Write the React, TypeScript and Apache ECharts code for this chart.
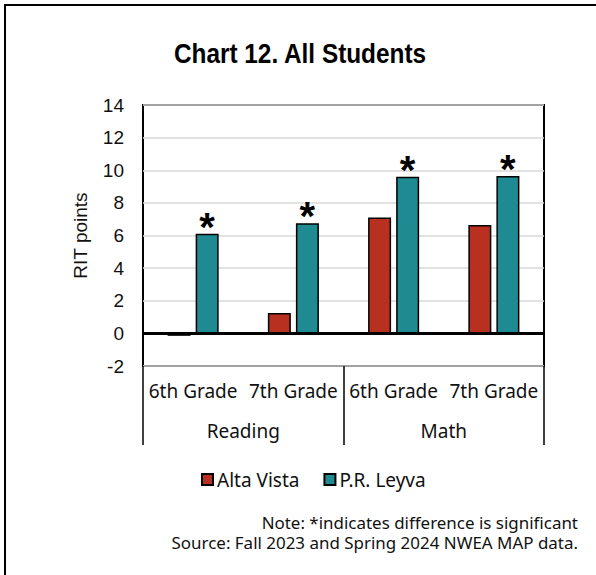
import React, { useEffect, useRef } from "react";
import * as echarts from "echarts";

const grades = ["6th Grade", "7th Grade", "6th Grade", "7th Grade"];
const subjects = ["Reading", "Math"];
const altaVista = [-0.15, 1.25, 7.1, 6.65];
const leyva = [6.1, 6.75, 9.6, 9.65];
const significant = [true, true, true, true];
const seriesNames = ["Alta Vista", "P.R. Leyva"];
const titleText = "Chart 12. All Students";
const noteLines = [
  "Note: *indicates difference is significant",
  "Source: Fall 2023 and Spring 2024 NWEA MAP data.",
];

const RED = "#B8301F";
const TEAL = "#1F8A92";
const ARIAL = "'Liberation Sans', Arial, sans-serif";
const SANS = "'Noto Sans', 'Liberation Sans', sans-serif";

export default function App() {
  const ref = useRef<HTMLDivElement>(null);
  useEffect(() => {
    if (!ref.current) return;
    const chart = echarts.init(ref.current, null, { renderer: "svg" });
    chart.setOption({
      animation: false,
      backgroundColor: "#fff",
      grid: {
        left: 143,
        top: 105,
        right: 52,
        bottom: 209,
        show: true,
        borderColor: "#000",
        borderWidth: 2,
        containLabel: false,
      },
      legend: {
        data: seriesNames,
        left: 196,
        top: 465,
        itemWidth: 11,
        itemHeight: 11,
        itemGap: 24,
        icon: "rect",
        textStyle: { fontFamily: SANS, fontSize: 19, color: "#111", padding: [0, 0, 0, -1] },
      },
      xAxis: [
        {
          type: "category",
          data: grades,
          position: "bottom",
          axisLine: { show: false },
          axisTick: { show: false },
          axisLabel: {
            interval: 0,
            margin: 15,
            fontFamily: SANS,
            fontSize: 19,
            color: "#111",
          },
          splitLine: { show: false },
        },
        {
          type: "category",
          data: subjects,
          position: "bottom",
          axisLine: { show: false },
          axisTick: { show: true, length: 79, lineStyle: { color: "#000", width: 1.5 } },
          axisLabel: {
            interval: 0,
            margin: 55,
            fontFamily: SANS,
            fontSize: 19,
            color: "#111",
          },
          splitLine: { show: false },
        },
      ],
      yAxis: {
        type: "value",
        min: -2,
        max: 14,
        interval: 2,
        name: "RIT points",
        nameLocation: "middle",
        nameGap: 53,
        nameRotate: 90,
        nameTextStyle: { fontFamily: ARIAL, fontSize: 19, color: "#111" },
        axisLine: { show: false },
        axisTick: { show: false },
        axisLabel: { fontFamily: ARIAL, fontSize: 19, color: "#111", margin: 19 },
        splitLine: { show: true, lineStyle: { color: "#d9d9d9", width: 1.5 } },
      },
      series: [
        {
          name: seriesNames[0],
          type: "bar",
          xAxisIndex: 0,
          data: altaVista,
          barWidth: 23,
          barGap: "22%",
          itemStyle: { color: RED, borderColor: "#000", borderWidth: 1.5 },
          markLine: {
            silent: true,
            symbol: "none",
            label: { show: false },
            lineStyle: { color: "#000", width: 3, type: "solid" },
            data: [{ yAxis: 0 }],
            z: 10,
          },
        },
        {
          name: seriesNames[1],
          type: "bar",
          xAxisIndex: 0,
          data: leyva,
          barWidth: 23,
          barGap: "22%",
          itemStyle: { color: TEAL, borderColor: "#000", borderWidth: 1.5 },
          label: {
            show: true,
            position: "top",
            distance: -13,
            formatter: (p: any) => (significant[p.dataIndex] ? "*" : ""),
            fontFamily: ARIAL,
            fontSize: 40,
            fontWeight: "bold",
            color: "#000",
          },
        },
      ],
      graphic: [
        {
          type: "rect",
          shape: { x: 5, y: 5, width: 640, height: 640 },
          style: { fill: "none", stroke: "#000", lineWidth: 2 },
          silent: true,
        },
        {
          type: "text",
          x: 300,
          y: 53,
          scaleX: 0.87,
          style: {
            text: titleText,
            textAlign: "center",
            textVerticalAlign: "middle",
            fontFamily: ARIAL,
            fontSize: 28,
            fontWeight: "bold",
            fill: "#000",
          },
        },
        {
          type: "text",
          x: 578,
          y: 523,
          scaleX: 1.06,
          style: {
            text: noteLines[0],
            textAlign: "right",
            textVerticalAlign: "middle",
            fontFamily: SANS,
            fontSize: 16,
            fill: "#111",
          },
        },
        {
          type: "text",
          x: 578,
          y: 543,
          scaleX: 1.06,
          style: {
            text: noteLines[1],
            textAlign: "right",
            textVerticalAlign: "middle",
            fontFamily: SANS,
            fontSize: 16,
            fill: "#111",
          },
        },
      ],
    });
    return () => chart.dispose();
  }, []);
  return (
    <div
      ref={ref}
      style={{ position: "absolute", left: 0, top: 0, width: 596, height: 575 }}
    />
  );
}
